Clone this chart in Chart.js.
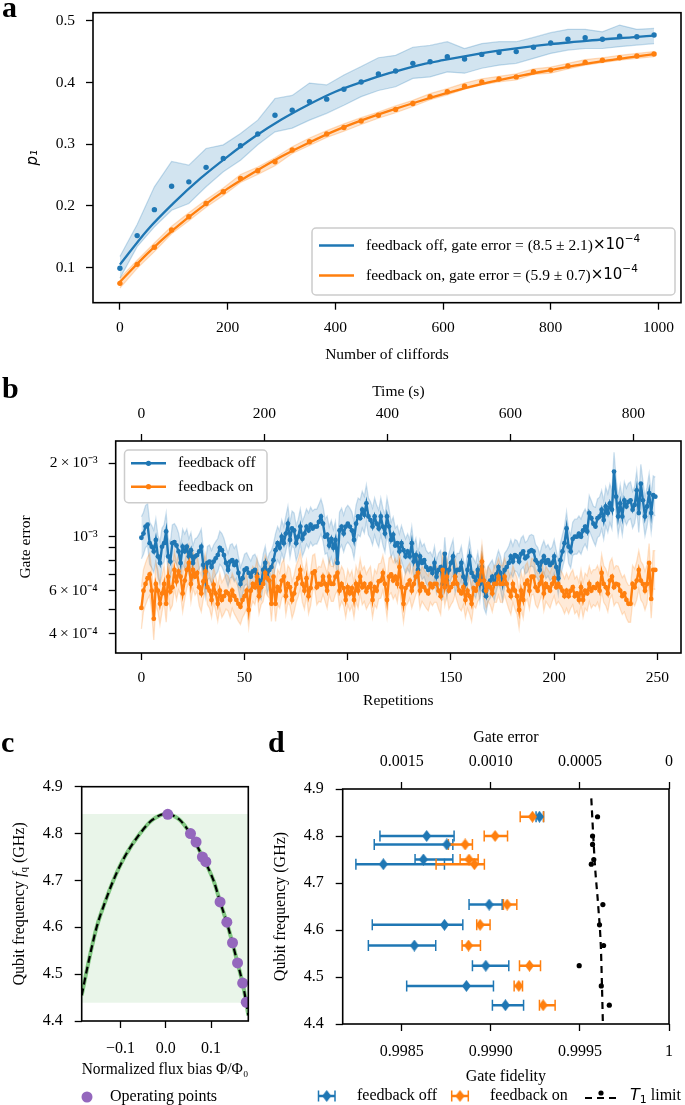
<!DOCTYPE html>
<html>
<head>
<meta charset="utf-8">
<script src="https://cdn.jsdelivr.net/npm/chart.js@4.4.1/dist/chart.umd.min.js"></script>
<style>
    body { margin: 0; background: #fff; width: 685px; height: 1105px; overflow: hidden; position: relative; font-family: "Liberation Serif", serif; }
    .panel { position: absolute; }
    .tag { position: absolute; font-weight: bold; font-size: 30px; line-height: 1; }
</style>
</head>
<body>
<div class="panel" style="left:0;top:0;width:685px;height:370px"><canvas id="chartA"></canvas></div>
<div class="panel" style="left:0;top:370px;width:685px;height:340px"><canvas id="chartB"></canvas></div>
<div class="panel" style="left:0;top:720px;width:262px;height:385px"><canvas id="chartC"></canvas></div>
<div class="panel" style="left:262px;top:720px;width:423px;height:385px"><canvas id="chartD"></canvas></div>
<div class="tag" style="left:2px;top:-8px">a</div>
<div class="tag" style="left:2px;top:373px">b</div>
<div class="tag" style="left:1px;top:727px">c</div>
<div class="tag" style="left:268px;top:727px">d</div>
<script>
// ---- panel a: randomized benchmarking ----
const cliffords = [0, 32, 64, 96, 128, 160, 192, 224, 256, 288, 320, 352, 384, 416, 448, 480, 512, 544, 576, 608, 640, 672, 704, 736, 768, 800, 832, 864, 896, 928, 960, 992];
const p1Off = [0.099, 0.152, 0.194, 0.232, 0.239, 0.2625, 0.277, 0.2975, 0.3165, 0.347, 0.355, 0.369, 0.373, 0.389, 0.4007, 0.4136, 0.4185, 0.431, 0.4336, 0.4417, 0.438, 0.4455, 0.4487, 0.450, 0.457, 0.464, 0.470, 0.4725, 0.470, 0.475, 0.474, 0.4768];
const p1OffHigh = [0.118, 0.170, 0.231, 0.272, 0.266, 0.293, 0.299, 0.3175, 0.339, 0.374, 0.379, 0.399, 0.396, 0.412, 0.426, 0.440, 0.444, 0.457, 0.460, 0.466, 0.455, 0.463, 0.466, 0.466, 0.473, 0.4806, 0.486, 0.486, 0.482, 0.493, 0.486, 0.4876];
const p1OffLow = [0.083, 0.134, 0.166, 0.193, 0.204, 0.231, 0.2555, 0.274, 0.299, 0.320, 0.326, 0.339, 0.350, 0.363, 0.377, 0.387, 0.393, 0.4066, 0.409, 0.417, 0.415, 0.423, 0.428, 0.431, 0.439, 0.447, 0.4525, 0.455, 0.455, 0.458, 0.4605, 0.463];
const p1On = [0.0746, 0.1054, 0.133, 0.161, 0.1826, 0.204, 0.223, 0.2447, 0.257, 0.2717, 0.2905, 0.304, 0.3165, 0.327, 0.3375, 0.347, 0.3564, 0.366, 0.377, 0.385, 0.394, 0.401, 0.4055, 0.409, 0.4174, 0.420, 0.4266, 0.4325, 0.436, 0.440, 0.4428, 0.446];
const p1OnHigh = [0.083, 0.112, 0.140, 0.167, 0.189, 0.210, 0.229, 0.251, 0.263, 0.278, 0.296, 0.310, 0.322, 0.333, 0.343, 0.352, 0.362, 0.371, 0.382, 0.390, 0.399, 0.406, 0.410, 0.414, 0.422, 0.425, 0.431, 0.437, 0.440, 0.444, 0.447, 0.450];
const p1OnLow = [0.067, 0.099, 0.126, 0.155, 0.176, 0.198, 0.217, 0.238, 0.251, 0.265, 0.285, 0.298, 0.311, 0.321, 0.332, 0.342, 0.351, 0.361, 0.372, 0.380, 0.389, 0.396, 0.401, 0.404, 0.413, 0.415, 0.422, 0.428, 0.432, 0.436, 0.439, 0.442];
const fitCliffords = [0, 50, 100, 150, 200, 250, 300, 350, 400, 450, 500, 550, 600, 650, 700, 750, 800, 850, 900, 950, 992];
const fitOff = [0.105, 0.160, 0.205, 0.245, 0.280, 0.312, 0.340, 0.364, 0.385, 0.401, 0.415, 0.427, 0.436, 0.444, 0.451, 0.457, 0.462, 0.466, 0.470, 0.473, 0.476];
const fitOn = [0.077, 0.122, 0.162, 0.197, 0.228, 0.255, 0.280, 0.302, 0.322, 0.339, 0.354, 0.368, 0.381, 0.393, 0.403, 0.412, 0.420, 0.428, 0.435, 0.441, 0.446];
const cliffordTicks = [0, 200, 400, 600, 800, 1000];
const p1Ticks = [0.1, 0.2, 0.3, 0.4, 0.5];

// ---- panel b: gate error over time (units of 1e-4) ----
const gateErrOff = [
    9.9, 10.3, 11.0, 11.2, 9.4, 9.1, 8.7, 9.7, 8.3, 7.8,
    9.1, 9.4, 10.5, 8.3, 7.9, 9.4, 9.5, 9.2, 8.7, 7.8,
    9.1, 8.7, 9.1, 8.3, 8.8, 7.8, 8.3, 8.4, 8.7, 9.1,
    7.65, 6.6, 7.8, 7.9, 7.5, 7.9, 8.15, 8.4, 9.0, 8.8,
    8.4, 7.8, 7.3, 7.9, 8.0, 7.65, 7.9, 7.1, 6.4, 6.75,
    7.3, 7.4, 7.1, 6.85, 7.2, 7.3, 7.0, 6.6, 6.4, 7.3,
    7.8, 6.85, 7.3, 7.5, 8.0, 8.8, 9.4, 9.0, 10.0, 9.4,
    10.3, 11.3, 9.7, 10.8, 10.6, 9.4, 10.0, 11.0, 9.8, 10.3,
    11.0, 10.6, 11.2, 10.8, 11.0, 11.0, 11.5, 12.1, 11.3, 10.0,
    10.2, 9.2, 9.8, 9.0, 9.7, 7.8, 10.6, 11.0, 10.3, 11.0,
    11.3, 11.0, 10.6, 9.7, 11.3, 12.1, 11.9, 12.9, 12.3, 13.7,
    12.1, 11.7, 11.0, 12.1, 11.3, 10.8, 12.1, 11.0, 10.3, 12.1,
    11.0, 9.7, 10.2, 9.2, 9.4, 8.7, 9.4, 8.8, 8.3, 8.7,
    8.3, 9.4, 7.9, 8.4, 7.3, 8.3, 7.8, 8.0, 7.5, 7.3,
    7.4, 7.1, 7.8, 6.85, 7.3, 7.5, 6.4, 8.5, 6.6, 7.3,
    7.8, 8.3, 6.85, 7.3, 7.3, 7.8, 6.85, 6.4, 7.3, 8.3,
    7.1, 6.85, 6.6, 7.3, 6.4, 7.5, 6.0, 5.7, 6.4, 6.6,
    6.85, 6.4, 7.0, 7.5, 7.1, 6.4, 7.3, 7.5, 7.8, 8.3,
    7.9, 8.4, 8.3, 7.9, 8.5, 8.7, 8.15, 8.3, 8.7, 8.8,
    8.7, 8.0, 7.8, 7.3, 7.9, 8.3, 7.8, 8.0, 7.65, 7.8,
    8.3, 7.5, 6.75, 8.0, 8.7, 9.4, 10.8, 9.1, 8.7, 9.8,
    10.0, 10.0, 10.3, 10.0, 10.6, 11.0, 10.5, 12.5, 11.9, 11.3,
    11.0, 11.9, 12.1, 12.9, 11.7, 13.3, 12.5, 13.7, 12.9, 18.5,
    14.6, 12.1, 13.7, 12.1, 14.1, 13.3, 13.9, 14.1, 12.9, 13.5,
    15.5, 12.5, 16.5, 14.1, 12.1, 13.3, 15.1, 12.5, 14.8, 14.6
];
const gateErrOn = [
    5.1, 6.0, 6.4, 6.75, 7.0, 6.0, 4.6, 6.4, 6.0, 5.3,
    5.85, 6.4, 5.3, 6.85, 5.95, 6.2, 7.3, 6.55, 7.2, 6.85,
    5.85, 6.6, 7.3, 7.8, 6.4, 7.3, 6.85, 7.1, 6.2, 5.85,
    6.55, 7.2, 6.2, 6.0, 5.5, 6.35, 5.85, 5.3, 6.0, 5.5,
    5.7, 5.95, 5.85, 5.5, 6.0, 5.7, 5.5, 5.3, 5.15, 5.5,
    5.7, 6.0, 5.0, 6.0, 6.4, 6.2, 6.85, 5.7, 6.2, 6.4,
    7.1, 6.75, 6.6, 5.3, 6.85, 5.3, 6.2, 6.0, 6.6, 6.85,
    5.7, 6.4, 6.2, 5.5, 5.85, 6.4, 6.75, 7.3, 6.4, 6.0,
    6.75, 5.7, 6.15, 7.1, 7.2, 6.2, 6.4, 6.35, 6.85, 6.4,
    6.0, 6.85, 6.4, 6.4, 6.85, 7.1, 6.0, 6.4, 6.15, 5.5,
    6.2, 5.85, 6.15, 5.5, 6.4, 6.0, 6.85, 6.2, 6.4, 5.95,
    6.2, 6.4, 5.5, 6.2, 6.0, 6.55, 6.6, 7.1, 6.4, 5.5,
    6.85, 7.0, 6.6, 6.85, 6.4, 7.5, 6.2, 5.3, 6.15, 6.35,
    6.6, 6.0, 6.4, 6.85, 7.1, 6.0, 6.4, 6.2, 6.0, 5.85,
    6.4, 6.2, 6.4, 6.4, 6.0, 5.7, 7.3, 6.2, 6.85, 6.0,
    6.2, 6.4, 6.85, 6.4, 6.0, 5.85, 6.2, 5.5, 6.0, 5.7,
    5.3, 6.15, 6.0, 6.4, 6.6, 7.9, 6.6, 6.0, 6.4, 6.2,
    5.85, 6.4, 6.4, 6.85, 6.4, 6.4, 6.85, 6.4, 6.0, 5.7,
    6.4, 6.0, 5.7, 5.0, 6.0, 5.5, 6.4, 6.6, 6.0, 6.85,
    6.85, 6.2, 6.0, 6.4, 6.85, 5.85, 6.4, 6.2, 6.0, 6.4,
    6.75, 6.2, 6.4, 6.2, 6.0, 5.7, 6.0, 5.7, 6.0, 6.2,
    5.7, 5.85, 5.5, 6.2, 5.5, 6.0, 5.85, 6.4, 6.0, 6.2,
    6.15, 6.4, 6.0, 7.1, 6.4, 6.2, 5.85, 6.6, 6.85, 6.2,
    6.4, 6.35, 6.0, 5.7, 5.85, 5.5, 5.3, 5.3, 6.4, 6.2,
    6.6, 7.3, 6.6, 6.4, 6.0, 6.4, 7.8, 5.55, 7.3, 7.3
];
// relative uncertainty of the shaded band, one value per 10 repetitions
const relErrOff = [0.22, 0.19, 0.18, 0.17, 0.17, 0.16, 0.17, 0.18, 0.18, 0.19, 0.19, 0.19, 0.18, 0.17, 0.17, 0.17, 0.18, 0.17, 0.16, 0.16, 0.17, 0.18, 0.20, 0.19, 0.20];
const relErrOn = [0.22, 0.19, 0.19, 0.18, 0.18, 0.18, 0.18, 0.19, 0.18, 0.18, 0.18, 0.18, 0.19, 0.18, 0.19, 0.18, 0.18, 0.19, 0.19, 0.18, 0.18, 0.18, 0.19, 0.19, 0.20];
const repTicks = [0, 50, 100, 150, 200, 250];
const timeTicks = [0, 200, 400, 600, 800];
const errTicks = [4, 5, 6, 7, 8, 9, 10, 20];
const errTickLabels = ['4\u2009×\u200910⁻⁴', '', '6\u2009×\u200910⁻⁴', '', '', '', '10⁻³', '2\u2009×\u200910⁻³'];

// ---- panel c: flux tuning curve ----
const fluxCurve = [-0.186, -0.17, -0.153, -0.135, -0.116, -0.09, -0.057, -0.03, 0, 0.03, 0.0546, 0.081, 0.1055, 0.12, 0.138, 0.1587, 0.17, 0.178, 0.1825];
const freqCurve = [4.455, 4.53, 4.60, 4.652, 4.70, 4.752, 4.80, 4.829, 4.842, 4.830, 4.799, 4.751, 4.70, 4.655, 4.600, 4.524, 4.480, 4.439, 4.412];
const opFlux = [0.0044, 0.0546, 0.067, 0.081, 0.0886, 0.120, 0.135, 0.1476, 0.1587, 0.170, 0.178];
const opFreq = [4.841, 4.800, 4.782, 4.750, 4.740, 4.654, 4.611, 4.567, 4.524, 4.481, 4.440];
const bandFreq = [4.439, 4.842];
const fluxTicks = [-0.1, 0, 0.1];
const fluxTickLabels = ['−0.1', '0.0', '0.1'];
const freqTicks = [4.4, 4.5, 4.6, 4.7, 4.8, 4.9];

// ---- panel d: fidelity per operating point ----
const fidOff = [0.999273, 0.998640, 0.998753, 0.998622, 0.998397, 0.998991, 0.998740, 0.998571, 0.998972, 0.998863, 0.999082];
const fidOffLow = [0.999254, 0.998378, 0.998346, 0.998575, 0.998243, 0.998878, 0.998335, 0.998313, 0.998897, 0.998528, 0.999009];
const fidOffHigh = [0.999296, 0.998794, 0.998787, 0.998787, 0.998740, 0.999064, 0.998843, 0.998691, 0.999101, 0.999015, 0.999184];
const fidOn = [0.999234, 0.999024, 0.998856, 0.998878, 0.998908, 0.999092, 0.998940, 0.998875, 0.999217, 0.999157, 0.999294];
const fidOnLow = [0.999165, 0.998963, 0.998762, 0.998828, 0.998693, 0.999071, 0.998921, 0.998839, 0.999161, 0.999131, 0.999273];
const fidOnHigh = [0.999296, 0.999094, 0.998897, 0.998929, 0.998964, 0.999146, 0.998996, 0.998942, 0.999279, 0.999178, 0.999361];
const t1Fid = [0.999599, 0.999571, 0.999571, 0.999578, 0.999564, 0.999629, 0.999610, 0.999633, 0.999496, 0.999620, 0.999665];
const t1LineFreq = [4.88, 4.80, 4.74, 4.65, 4.56, 4.48, 4.40];
const t1LineFid = [0.999564, 0.999575, 0.999584, 0.999603, 0.999618, 0.999624, 0.999629];
const fidTicks = [0.9985, 0.999, 0.9995, 1];
const fidTickLabels = ['0.9985', '0.9990', '0.9995', '1'];
const errTopTicks = [0.0015, 0.001, 0.0005, 0];
const errTopLabels = ['0.0015', '0.0010', '0.0005', '0'];

const BLUE = '#1f77b4';
const ORANGE = '#ff7f0e';
const SERIF = '"Liberation Serif", serif';
const SANS = '"DejaVu Sans", sans-serif';

Chart.defaults.font.family = SERIF;
Chart.defaults.color = '#000';

const zip = (xs, ys) => xs.map((x, i) => ({ x: x, y: ys[i] }));

// box around the plot area, like matplotlib spines
const framePlugin = {
    id: 'frame',
    afterDatasetsDraw(chart) {
        const { ctx, chartArea: a } = chart;
        ctx.save();
        ctx.strokeStyle = '#000';
        ctx.lineWidth = 1.6;
        ctx.strokeRect(a.left, a.top, a.right - a.left, a.bottom - a.top);
        ctx.restore();
    }
};
Chart.register(framePlugin);

function drawRich(ctx, parts, x, y, align) {
    let w = 0;
    parts.forEach(p => { ctx.font = p[1]; w += ctx.measureText(p[0]).width; });
    let cx = align === 'center' ? x - w / 2 : x;
    ctx.textAlign = 'left';
    ctx.textBaseline = 'middle';
    ctx.fillStyle = '#000';
    parts.forEach(p => {
        ctx.font = p[1];
        ctx.fillText(p[0], cx, y + (p[2] || 0));
        cx += ctx.measureText(p[0]).width;
    });
}

function drawKey(ctx, it) {
    const xm = (it.x0 + it.x1) / 2;
    ctx.save();
    ctx.strokeStyle = it.color;
    ctx.fillStyle = it.color;
    if (it.kind === 'line' || it.kind === 'linedot') {
        ctx.lineWidth = 2.5;
        ctx.beginPath(); ctx.moveTo(it.x0, it.y); ctx.lineTo(it.x1, it.y); ctx.stroke();
        if (it.kind === 'linedot') { ctx.beginPath(); ctx.arc(xm, it.y, 2.6, 0, 2 * Math.PI); ctx.fill(); }
    } else if (it.kind === 'dot') {
        ctx.beginPath(); ctx.arc(xm, it.y, 5.5, 0, 2 * Math.PI); ctx.fill();
    } else if (it.kind === 'err') {
        ctx.lineWidth = 2.5;
        ctx.beginPath(); ctx.moveTo(it.x0, it.y); ctx.lineTo(it.x1, it.y); ctx.stroke();
        ctx.lineWidth = 1.5;
        ctx.beginPath();
        ctx.moveTo(it.x0, it.y - 5.5); ctx.lineTo(it.x0, it.y + 5.5);
        ctx.moveTo(it.x1, it.y - 5.5); ctx.lineTo(it.x1, it.y + 5.5);
        ctx.stroke();
        ctx.drawImage(it.img, xm - it.img.width / 2, it.y - it.img.height / 2);
    } else if (it.kind === 'dashdot') {
        ctx.lineWidth = 2.2;
        ctx.setLineDash([7, 5]);
        ctx.beginPath(); ctx.moveTo(it.x0, it.y + 2); ctx.lineTo(it.x1, it.y + 2); ctx.stroke();
        ctx.setLineDash([]);
        ctx.beginPath(); ctx.arc(xm, it.y - 3, 2.6, 0, 2 * Math.PI); ctx.fill();
    }
    ctx.restore();
}

// legends and rich text titles
const keyPlugin = {
    id: 'keys',
    afterDraw(chart, args, o) {
        const ctx = chart.ctx;
        const a = chart.chartArea;
        ctx.save();
        if (o.box) {
            ctx.beginPath();
            ctx.roundRect(o.box.x, o.box.y, o.box.w, o.box.h, 4);
            ctx.fillStyle = 'rgba(255,255,255,0.8)';
            ctx.fill();
            ctx.strokeStyle = '#cccccc';
            ctx.lineWidth = 1.5;
            ctx.stroke();
        }
        (o.items || []).forEach(it => {
            drawKey(ctx, it);
            drawRich(ctx, it.parts, it.tx, it.y, 'left');
        });
        (o.titles || []).forEach(t => {
            ctx.save();
            ctx.translate(t.x, t.y === 'mid' ? (a.top + a.bottom) / 2 : t.y);
            ctx.rotate(-Math.PI / 2);
            drawRich(ctx, t.parts, 0, 0, 'center');
            ctx.restore();
        });
        ctx.restore();
    }
};
Chart.register(keyPlugin);

// horizontal error bars for panel d
const errorBarPlugin = {
    id: 'errorBars',
    beforeDatasetsDraw(chart) {
        const { ctx, chartArea: a } = chart;
        const xs = chart.scales.x, ys = chart.scales.y;
        ctx.save();
        ctx.beginPath(); ctx.rect(a.left, a.top, a.right - a.left, a.bottom - a.top); ctx.clip();
        chart.data.datasets.forEach(ds => {
            if (!ds.errLow) return;
            ctx.strokeStyle = ds.borderColor;
            ds.data.forEach((p, i) => {
                const yy = ys.getPixelForValue(p.y);
                const xl = xs.getPixelForValue(ds.errLow[i]);
                const xh = xs.getPixelForValue(ds.errHigh[i]);
                ctx.lineWidth = 2.5;
                ctx.beginPath(); ctx.moveTo(xl, yy); ctx.lineTo(xh, yy); ctx.stroke();
                ctx.lineWidth = 1.5;
                ctx.beginPath();
                ctx.moveTo(xl, yy - 5.5); ctx.lineTo(xl, yy + 5.5);
                ctx.moveTo(xh, yy - 5.5); ctx.lineTo(xh, yy + 5.5);
                ctx.stroke();
            });
        });
        ctx.restore();
    }
};

function axis(o) {
    const horizontal = o.position === 'top' || o.position === 'bottom';
    return {
        type: o.type || 'linear',
        position: o.position,
        min: o.min,
        max: o.max,
        reverse: !!o.reverse,
        afterBuildTicks: s => { s.ticks = o.ticks.map(v => ({ value: v })); },
        afterFit: s => {
            if (horizontal) s.height = o.size; else s.width = o.size;
            s.paddingTop = s.paddingBottom = s.paddingLeft = s.paddingRight = 0;
        },
        border: { display: false },
        grid: { drawOnChartArea: false, tickLength: 7, tickWidth: 1.3, tickColor: '#000' },
        ticks: {
            autoSkip: false, maxRotation: 0, padding: o.tickPad, color: '#000',
            font: { size: o.fontSize },
            callback: (v, i) => o.labels ? o.labels[i] : String(o.ticks[i])
        },
        title: o.title ? {
            display: true, text: o.title, color: '#000',
            font: o.titleFont || { size: o.fontSize }, padding: o.titlePad
        } : { display: false }
    };
}

const base = {
    responsive: true,
    maintainAspectRatio: false,
    animation: false,
    events: []
};

// ---------- a ----------
new Chart(document.getElementById('chartA'), {
    type: 'line',
    data: {
        datasets: [
            { data: zip(cliffords, p1OffHigh), fill: '+1', backgroundColor: 'rgba(31,119,180,0.2)', borderColor: 'rgba(31,119,180,0.25)', borderWidth: 1.2, pointRadius: 0, order: 3 },
            { data: zip(cliffords, p1OffLow), fill: false, borderColor: 'rgba(31,119,180,0.25)', borderWidth: 1.2, pointRadius: 0, order: 3 },
            { data: zip(cliffords, p1OnHigh), fill: '+1', backgroundColor: 'rgba(255,127,14,0.22)', borderColor: 'rgba(255,127,14,0.25)', borderWidth: 1.2, pointRadius: 0, order: 3 },
            { data: zip(cliffords, p1OnLow), fill: false, borderColor: 'rgba(255,127,14,0.25)', borderWidth: 1.2, pointRadius: 0, order: 3 },
            { data: zip(fitCliffords, fitOff), borderColor: BLUE, borderWidth: 2.3, pointRadius: 0, cubicInterpolationMode: 'monotone', order: 1 },
            { data: zip(fitCliffords, fitOn), borderColor: ORANGE, borderWidth: 2.3, pointRadius: 0, cubicInterpolationMode: 'monotone', order: 1 },
            { data: zip(cliffords, p1Off), showLine: false, pointRadius: 2.7, pointBorderWidth: 0, pointBackgroundColor: BLUE, order: 0 },
            { data: zip(cliffords, p1On), showLine: false, pointRadius: 2.7, pointBorderWidth: 0, pointBackgroundColor: ORANGE, order: 0 }
        ]
    },
    options: {
        ...base,
        layout: { padding: { left: 0, right: 1.6, top: 12.7, bottom: 0 } },
        scales: {
            x: axis({ position: 'bottom', min: -50, max: 1042, ticks: cliffordTicks, size: 67.3, tickPad: 9, fontSize: 15.5, title: 'Number of cliffords', titlePad: { top: 0, bottom: 5.7 } }),
            y: axis({ position: 'left', min: 0.0433, max: 0.513, ticks: p1Ticks, labels: p1Ticks.map(v => v.toFixed(1)), size: 93, tickPad: 11, fontSize: 15.5, title: 'p₁', titleFont: { family: SANS, style: 'italic', size: 15 }, titlePad: { top: 23.7, bottom: 0 } })
        },
        plugins: {
            legend: { display: false }, tooltip: { enabled: false },
            keys: {
                box: { x: 312, y: 228, w: 363, h: 67 },
                items: [
                    { kind: 'line', color: BLUE, x0: 319, x1: 354, y: 245.5, tx: 366, parts: [['feedback off, gate error = (8.5 ± 2.1)', '15.5px ' + SERIF], ['×10', '15px ' + SANS], ['−4', '10.5px ' + SANS, -6]] },
                    { kind: 'line', color: ORANGE, x0: 319, x1: 354, y: 275.5, tx: 366, parts: [['feedback on, gate error = (5.9 ± 0.7)', '15.5px ' + SERIF], ['×10', '15px ' + SANS], ['−4', '10.5px ' + SANS, -6]] }
                ]
            }
        }
    }
});

// ---------- b ----------
const repetitions = gateErrOff.map((_, i) => i);
const bandHigh = (vals, rel) => vals.map((v, i) => v * (1 + rel[Math.floor(i / 10)]));
const bandLow = (vals, rel) => vals.map((v, i) => v / (1 + rel[Math.floor(i / 10)]));

new Chart(document.getElementById('chartB'), {
    type: 'line',
    data: {
        datasets: [
            { data: zip(repetitions, bandHigh(gateErrOff, relErrOff)), fill: '+1', backgroundColor: 'rgba(31,119,180,0.18)', borderColor: 'rgba(31,119,180,0.22)', borderWidth: 1.3, pointRadius: 0, order: 4 },
            { data: zip(repetitions, bandLow(gateErrOff, relErrOff)), fill: false, borderColor: 'rgba(31,119,180,0.22)', borderWidth: 1.3, pointRadius: 0, order: 4 },
            { data: zip(repetitions, bandHigh(gateErrOn, relErrOn)), fill: '+1', backgroundColor: 'rgba(255,127,14,0.16)', borderColor: 'rgba(255,127,14,0.22)', borderWidth: 1.3, pointRadius: 0, order: 3 },
            { data: zip(repetitions, bandLow(gateErrOn, relErrOn)), fill: false, borderColor: 'rgba(255,127,14,0.22)', borderWidth: 1.3, pointRadius: 0, order: 3 },
            { data: zip(repetitions, gateErrOff), borderColor: BLUE, borderWidth: 2.4, pointRadius: 2.4, pointBorderWidth: 0, pointBackgroundColor: BLUE, order: 1 },
            { data: zip(repetitions, gateErrOn), borderColor: ORANGE, borderWidth: 2.4, pointRadius: 2.4, pointBorderWidth: 0, pointBackgroundColor: ORANGE, order: 0 }
        ]
    },
    options: {
        ...base,
        layout: { padding: { left: 0, right: 4, top: 0, bottom: 0 } },
        scales: {
            x: axis({ position: 'bottom', min: -12.45, max: 261.45, ticks: repTicks, size: 57, tickPad: 9, fontSize: 15.5, title: 'Repetitions', titlePad: { top: 0, bottom: 0 } }),
            x2: axis({ position: 'top', min: -41.8, max: 877.4, ticks: timeTicks, size: 71, tickPad: 11, fontSize: 15.5, title: 'Time (s)', titlePad: { top: 12.7, bottom: 0 } }),
            y: axis({ type: 'logarithmic', position: 'left', min: 3.33, max: 24.7, ticks: errTicks, labels: errTickLabels, size: 115.7, tickPad: 11, fontSize: 15.5, title: 'Gate error', titlePad: { top: 16.7, bottom: 0 } })
        },
        plugins: {
            legend: { display: false }, tooltip: { enabled: false },
            keys: {
                box: { x: 124.5, y: 80, w: 142.5, h: 52.7 },
                items: [
                    { kind: 'linedot', color: BLUE, x0: 131, x1: 166, y: 93.3, tx: 178, parts: [['feedback off', '15.5px ' + SERIF]] },
                    { kind: 'linedot', color: ORANGE, x0: 131, x1: 166, y: 116.7, tx: 178, parts: [['feedback on', '15.5px ' + SERIF]] }
                ]
            }
        }
    }
});

// ---------- c ----------
new Chart(document.getElementById('chartC'), {
    type: 'line',
    data: {
        datasets: [
            { data: zip([-0.186, 0.1825], [bandFreq[1], bandFreq[1]]), fill: '+1', backgroundColor: 'rgba(44,160,44,0.1)', borderWidth: 0, pointRadius: 0, order: 5 },
            { data: zip([-0.186, 0.1825], [bandFreq[0], bandFreq[0]]), fill: false, borderWidth: 0, pointRadius: 0, order: 5 },
            { data: zip(fluxCurve, freqCurve), borderColor: 'rgba(44,160,44,0.55)', borderWidth: 4, pointRadius: 0, cubicInterpolationMode: 'monotone', clip: 0, order: 2 },
            { data: zip(fluxCurve, freqCurve), borderColor: '#000', borderWidth: 2.2, borderDash: [7, 4], pointRadius: 0, cubicInterpolationMode: 'monotone', clip: 0, order: 1 },
            { data: zip(opFlux, opFreq), showLine: false, pointRadius: 5.5, pointBorderWidth: 0, pointBackgroundColor: '#9467bd', clip: 0, order: 0 }
        ]
    },
    options: {
        ...base,
        layout: { padding: { left: 0, right: 13.7, top: 66.7, bottom: 0 } },
        scales: {
            x: axis({ position: 'bottom', min: -0.186, max: 0.1825, ticks: fluxTicks, labels: fluxTickLabels, size: 84, tickPad: 11, fontSize: 16, title: 'Normalized flux bias Φ/Φ₀', titlePad: { top: 0, bottom: 25.4 } }),
            y: axis({ position: 'left', min: 4.4, max: 4.9, ticks: freqTicks, labels: freqTicks.map(v => v.toFixed(1)), size: 81.7, tickPad: 12, fontSize: 16 })
        },
        plugins: {
            legend: { display: false }, tooltip: { enabled: false },
            keys: {
                items: [
                    { kind: 'dot', color: '#9467bd', x0: 87, x1: 87, y: 377, tx: 110, parts: [['Operating points', '16px ' + SERIF]] }
                ],
                titles: [
                    { x: 20, y: 'mid', parts: [['Qubit frequency ', '16px ' + SERIF], ['f', 'italic 16px ' + SERIF], ['q', '11px ' + SERIF, 4], [' (GHz)', '16px ' + SERIF]] }
                ]
            }
        }
    }
});

// ---------- d ----------
function thinDiamond(color) {
    const c = document.createElement('canvas');
    c.width = 9; c.height = 12;
    const g = c.getContext('2d');
    g.fillStyle = color;
    g.beginPath(); g.moveTo(4.5, 0); g.lineTo(9, 6); g.lineTo(4.5, 12); g.lineTo(0, 6); g.closePath(); g.fill();
    return c;
}
const diamondOff = thinDiamond(BLUE);
const diamondOn = thinDiamond(ORANGE);

new Chart(document.getElementById('chartD'), {
    type: 'line',
    data: {
        datasets: [
            { data: zip(fidOff, opFreq), errLow: fidOffLow, errHigh: fidOffHigh, showLine: false, borderColor: BLUE, pointStyle: diamondOff, pointRadius: 6, order: 3 },
            { data: zip(fidOn, opFreq), errLow: fidOnLow, errHigh: fidOnHigh, showLine: false, borderColor: ORANGE, pointStyle: diamondOn, pointRadius: 6, order: 2 },
            { data: zip(t1LineFid, t1LineFreq), borderColor: '#000', borderWidth: 2.2, borderDash: [7, 5], pointRadius: 0, cubicInterpolationMode: 'monotone', order: 1 },
            { data: zip(t1Fid, opFreq), showLine: false, pointRadius: 2.6, pointBorderWidth: 0, pointBackgroundColor: '#000', order: 0 }
        ]
    },
    plugins: [errorBarPlugin],
    options: {
        ...base,
        layout: { padding: { left: 0, right: 16, top: 0, bottom: 0 } },
        scales: {
            x: axis({ position: 'bottom', min: 0.998169, max: 1.0, ticks: fidTicks, labels: fidTickLabels, size: 81, tickPad: 11, fontSize: 16, title: 'Gate fidelity', titlePad: { top: 0, bottom: 18.4 } }),
            x2: axis({ position: 'top', min: 0, max: 0.001831, reverse: true, ticks: errTopTicks, labels: errTopLabels, size: 69, tickPad: 11, fontSize: 16, title: 'Gate error', titlePad: { top: 8.4, bottom: 0 } }),
            y: axis({ position: 'left', min: 4.4, max: 4.9, ticks: freqTicks, labels: freqTicks.map(v => v.toFixed(1)), size: 80.7, tickPad: 12, fontSize: 16, title: 'Qubit frequency (GHz)', titlePad: { top: 9.4, bottom: 0 } })
        },
        plugins: {
            legend: { display: false }, tooltip: { enabled: false },
            keys: {
                items: [
                    { kind: 'err', color: BLUE, img: diamondOff, x0: 56.5, x1: 73, y: 376, tx: 95, parts: [['feedback off', '16px ' + SERIF]] },
                    { kind: 'err', color: ORANGE, img: diamondOn, x0: 189.7, x1: 206.3, y: 376, tx: 228, parts: [['feedback on', '16px ' + SERIF]] },
                    { kind: 'dashdot', color: '#000', x0: 323, x1: 355, y: 376, tx: 368, parts: [['T', 'italic 16px ' + SANS], ['1', '11px ' + SANS, 4], [' limit', '16px ' + SERIF]] }
                ]
            }
        }
    }
});
</script>
</body>
</html>
